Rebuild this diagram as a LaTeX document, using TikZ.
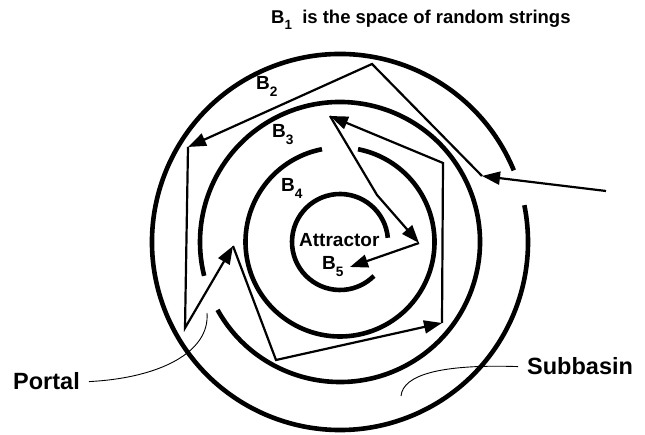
\documentclass[tikz,border=0pt]{standalone}
\usepackage{fontspec}
\setmainfont{Liberation Sans}
\usetikzlibrary{arrows.meta}
\newcommand\sbs[1]{\raisebox{-0.32em}{\scalebox{0.72}{#1}}}
\begin{document}
\begin{tikzpicture}[x=1pt,y=1pt,
  ring/.style={line width=4.6pt},
  walk/.style={line width=2.2pt,line join=miter,-{Triangle[length=18pt,width=13pt]}},
  lead/.style={line width=0.9pt},
  lbl/.style={font=\fontsize{19}{21}\bfseries\selectfont,inner sep=0pt,anchor=base west},
  biglbl/.style={font=\fontsize{23.5}{26}\bfseries\selectfont,inner sep=0pt,anchor=base west},
  ttl/.style={font=\fontsize{18.5}{21}\bfseries\selectfont,inner sep=0pt,anchor=base west}]
\useasboundingbox (0,0) rectangle (645,435);
\coordinate (C) at (340,193);
% rings
\draw[ring] ([shift={(22.4:188)}]C) arc[start angle=22.4,end angle=371.3,radius=188];
\draw[ring] ([shift={(209:140)}]C) arc[start angle=209,end angle=554,radius=140];
\draw[ring] ([shift={(101:94.5)}]C) arc[start angle=101,end angle=439,radius=94.5];
\draw[ring] ([shift={(5:48)}]C) arc[start angle=5,end angle=315,radius=48];
% walk coordinates
\coordinate (P0) at (606,244);
\coordinate (P1) at (482,259);
\coordinate (P2) at (372,371);
\coordinate (P3) at (188,288);
\coordinate (P4) at (185,107);
\coordinate (P5) at (233,189);
\coordinate (P6) at (276,75);
\coordinate (P7) at (442,112);
\coordinate (P8) at (443,272);
\coordinate (P9) at (330,319);
\coordinate (P10) at (377,240);
\coordinate (P11) at (419,192);
\coordinate (P12) at (350,168);
\draw[walk] (P0) -- (P1);
\draw[walk] (P1) -- (P2) -- (P3);
\draw[walk] (P3) -- (P4) -- (P5);
\draw[walk] (P5) -- (P6) -- (P7);
\draw[walk] (P7) -- (P8) -- (P9);
\draw[walk] (P9) -- (P10) -- (P11);
\draw[walk] (P11) -- (P12);
% labels
\node[ttl] (title) at (271,411) {B\sbs{1}\ \ is the space of random strings};
\node[lbl] (b2) at (256,345) {B\sbs{2}};
\node[lbl] (b3) at (272,297) {B\sbs{3}};
\node[lbl] (b4) at (281,243) {B\sbs{4}};
\node[lbl] (attr) at (299,188) {Attractor};
\node[lbl] (b5) at (322,165) {B\sbs{5}};
\node[biglbl] (portal) at (13,45) {Portal};
\node[biglbl] (sub) at (527,60) {Subbasin};
% leaders
\coordinate (pe) at (207,122);
\coordinate (se) at (401,39);
\draw[lead] ([xshift=9pt]portal.east) .. controls (160,57) and (210,83) .. (pe);
\draw[lead] (se) .. controls (403,60) and (440,71) .. ([xshift=-9pt]sub.west);
\end{tikzpicture}
\end{document}
